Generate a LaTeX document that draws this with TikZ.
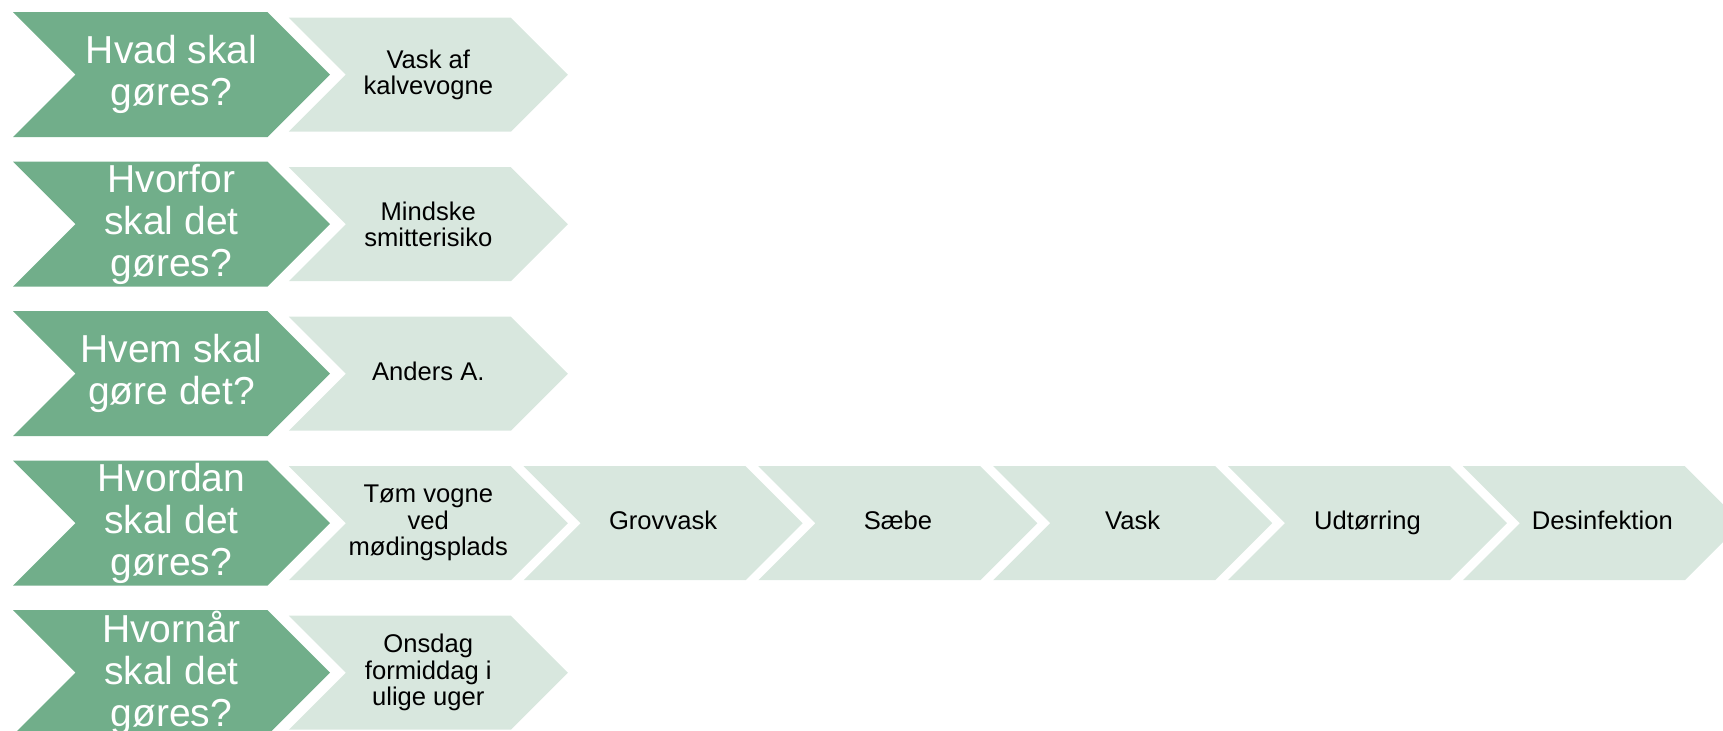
\documentclass[tikz,border=0pt]{standalone}
\usepackage{fontspec}
\setmainfont{Liberation Sans}
\usetikzlibrary{positioning}

\definecolor{qgreen}{RGB}{113,174,138}
\definecolor{agreen}{RGB}{216,231,222}

\begin{document}
\begin{tikzpicture}[
        x=0.5pt, y=-0.5pt,
        chevron/.style 2 args={rectangle, inner sep=0pt, align=center,
            path picture={
                \fill[#1] (path picture bounding box.north west)
                    -- ([xshift=-#2]path picture bounding box.north east)
                    -- (path picture bounding box.east)
                    -- ([xshift=-#2]path picture bounding box.south east)
                    -- (path picture bounding box.south west)
                    -- ([xshift=#2]path picture bounding box.west) -- cycle;
            }},
        question/.style={chevron={qgreen}{31.25pt}, text=white,
            minimum width=158.5pt, minimum height=62.5pt, font=\fontsize{19.5}{21}\selectfont},
        answer/.style={chevron={agreen}{28.5pt}, text=black,
            minimum width=139.5pt, minimum height=57pt, font=\fontsize{12.8}{13.2}\selectfont},
        oneline/.style={answer, text height=9.2pt, text depth=2.7pt},
        node distance=-21pt
    ]

    \useasboundingbox (0,0) rectangle (1723,731);

    % questions
    \node[question] (hvad) at (171.5,74.7) {Hvad skal\\gøres?};
    \node[question] (hvorfor) at (171.5,224.2) {Hvorfor\\skal det\\gøres?};
    \node[question] (hvem) at (171.5,373.7) {Hvem skal\\gøre det?};
    \node[question] (hvordan) at (171.5,523.2) {Hvordan\\skal det\\gøres?};
    \node[question] (hvornaar) at (171.5,672.7) {Hvornår\\skal det\\gøres?};

    % answers
    \node[answer, right=of hvad] (vask) {Vask af\\kalvevogne};
    \node[answer, right=of hvorfor] (smitte) {Mindske\\smitterisiko};
    \node[oneline, right=of hvem] (anders) {Anders A.};
    \node[answer, right=of hvornaar] (onsdag) {Onsdag\\formiddag i\\ulige uger};

    % steps
    \node[answer, right=of hvordan] (toem) {Tøm vogne\\ved\\mødingsplads};
    \node[oneline, right=-22.5pt of toem] (grov) {Grovvask};
    \node[oneline, right=-22.5pt of grov] (saebe) {Sæbe};
    \node[oneline, right=-22.5pt of saebe] (vask2) {Vask};
    \node[oneline, right=-22.5pt of vask2] (udtoer) {Udtørring};
    \node[oneline, right=-22.5pt of udtoer] (desinf) {Desinfektion};

\end{tikzpicture}
\end{document}
